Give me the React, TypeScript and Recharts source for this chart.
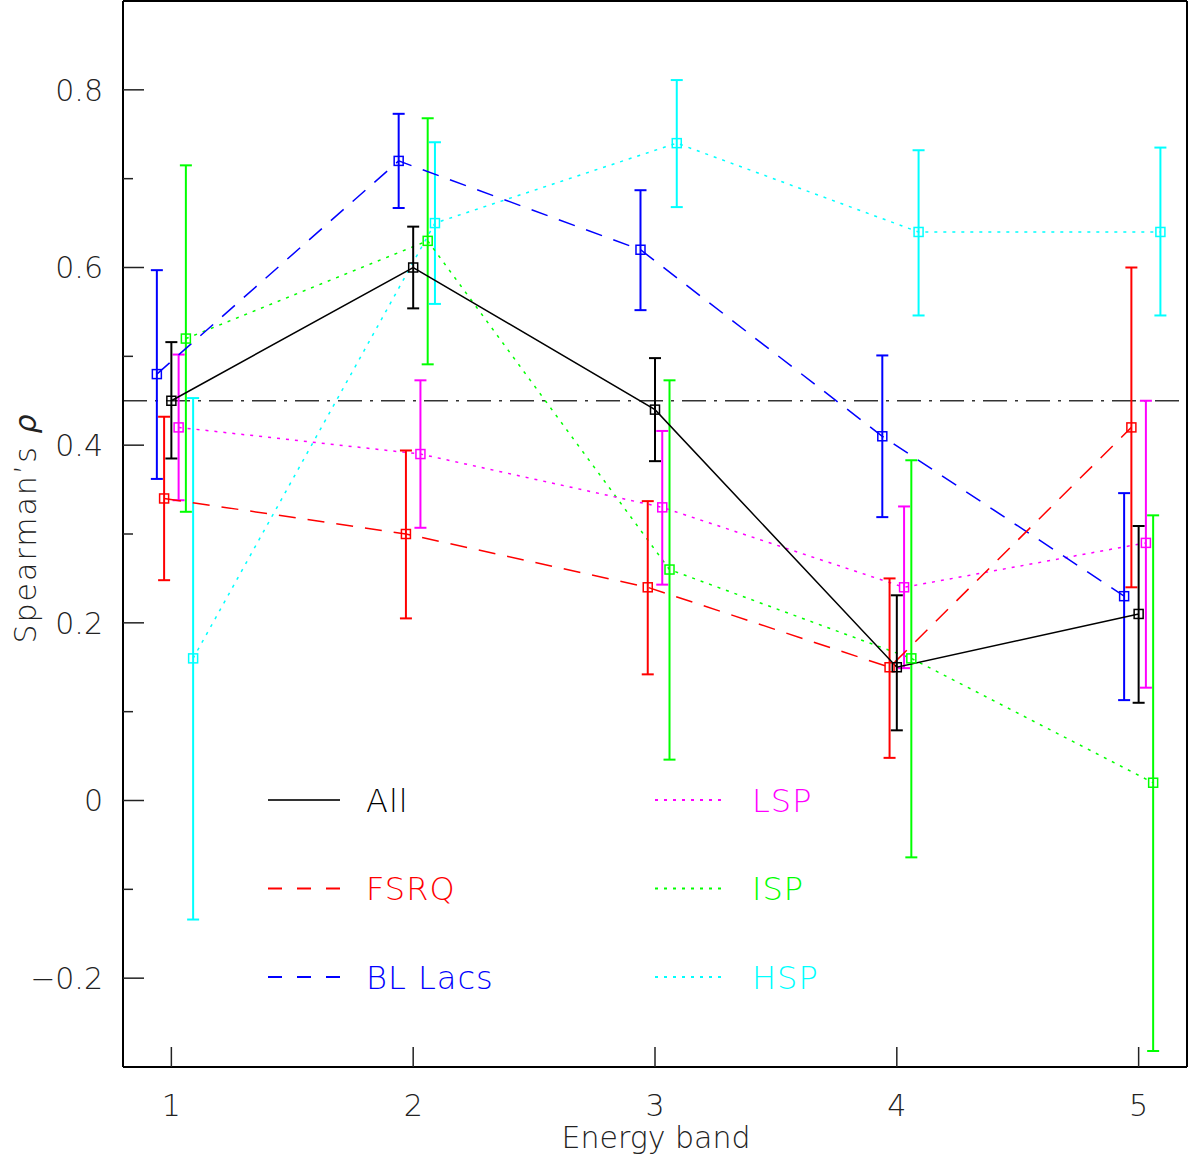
import React from "react";
import {
  ComposedChart,
  Line,
  XAxis,
  YAxis,
  ErrorBar,
  ReferenceLine,
  Legend,
} from "recharts";

const bands = [1, 2, 3, 4, 5];

const allRho = [0.45, 0.6, 0.44, 0.15, 0.21];
const allLo = [0.385, 0.554, 0.382, 0.079, 0.11];
const allHi = [0.516, 0.646, 0.498, 0.231, 0.309];

const fsrqRho = [0.34, 0.3, 0.24, 0.15, 0.42];
const fsrqLo = [0.248, 0.205, 0.142, 0.048, 0.24];
const fsrqHi = [0.432, 0.394, 0.337, 0.25, 0.6];

const blRho = [0.48, 0.72, 0.62, 0.41, 0.23];
const blLo = [0.362, 0.667, 0.552, 0.319, 0.113];
const blHi = [0.597, 0.773, 0.687, 0.501, 0.346];

const lspRho = [0.42, 0.39, 0.33, 0.24, 0.29];
const lspLo = [0.338, 0.307, 0.243, 0.149, 0.127];
const lspHi = [0.502, 0.473, 0.416, 0.331, 0.45];

const ispRho = [0.52, 0.63, 0.26, 0.16, 0.02];
const ispLo = [0.325, 0.491, 0.046, -0.064, -0.282];
const ispHi = [0.715, 0.768, 0.473, 0.383, 0.321];

const hspRho = [0.16, 0.65, 0.74, 0.64, 0.64];
const hspLo = [-0.134, 0.559, 0.668, 0.546, 0.546];
const hspHi = [0.453, 0.741, 0.811, 0.732, 0.735];

const threshold = 0.45;

const xTicks = [1, 2, 3, 4, 5];
const yTicks = [-0.2, -0.1, 0, 0.1, 0.2, 0.3, 0.4, 0.5, 0.6, 0.7, 0.8];
const yLabels: Record<string, string> = {
  "-0.2": "\u22120.2",
  "0": "0",
  "0.2": "0.2",
  "0.4": "0.4",
  "0.6": "0.6",
  "0.8": "0.8",
};

const FONT = "'DejaVu Sans', 'Liberation Sans', sans-serif";
const WEIGHT = 200;
const INK = "#222";

// drawn back to front; shift keeps the error bars apart
const series = [
  { key: "hsp", name: "HSP", rho: hspRho, lo: hspLo, hi: hspHi, color: "#00ffff", dash: "3 6", legendDash: "3 6", shift: 0.09 },
  { key: "isp", name: "ISP", rho: ispRho, lo: ispLo, hi: ispHi, color: "#00ff00", dash: "3 6", legendDash: "3 6", shift: 0.06 },
  { key: "lsp", name: "LSP", rho: lspRho, lo: lspLo, hi: lspHi, color: "#ff00ff", dash: "3 6", legendDash: "3 6", shift: 0.03 },
  { key: "bl", name: "BL Lacs", rho: blRho, lo: blLo, hi: blHi, color: "#0000ff", dash: "17 12", legendDash: "14 15", shift: -0.06 },
  { key: "fsrq", name: "FSRQ", rho: fsrqRho, lo: fsrqLo, hi: fsrqHi, color: "#ff0000", dash: "17 12", legendDash: "14 15", shift: -0.03 },
  { key: "all", name: "All", rho: allRho, lo: allLo, hi: allHi, color: "#000000", dash: undefined, legendDash: undefined, shift: 0 },
];

const tables = series.map((s) =>
  bands.map((b, i) => ({
    x: b + s.shift,
    y: s.rho[i],
    err: [s.rho[i] - s.lo[i], s.hi[i] - s.rho[i]],
  }))
);

const legendOrder = ["all", "fsrq", "bl", "lsp", "isp", "hsp"];

const LeftTick = (props: any) => {
  const { x, y, payload } = props;
  const label = yLabels[String(payload.value)];
  const len = label !== undefined ? 21 : 10;
  return (
    <g>
      <line x1={x} x2={x + len} y1={y} y2={y} stroke={INK} strokeWidth={1.5} />
      {label !== undefined && (
        <text x={x - 20} y={y} dy="0.36em" textAnchor="end" fontSize={30} fontWeight={WEIGHT} fontFamily={FONT} fill={INK}>
          {label}
        </text>
      )}
    </g>
  );
};

const RightTick = (props: any) => {
  const { x, y, payload } = props;
  const len = yLabels[String(payload.value)] !== undefined ? 21 : 10;
  return <line x1={x} x2={x - len} y1={y} y2={y} stroke={INK} strokeWidth={1.5} />;
};

const BottomTick = (props: any) => {
  const { x, y, payload } = props;
  return (
    <g>
      <line x1={x} x2={x} y1={y} y2={y - 20} stroke={INK} strokeWidth={1.5} />
      <text x={x} y={y + 49} textAnchor="middle" fontSize={30} fontWeight={WEIGHT} fontFamily={FONT} fill={INK}>
        {payload.value}
      </text>
    </g>
  );
};

const TopTick = (props: any) => {
  const { x, y } = props;
  return <line x1={x} x2={x} y1={y} y2={y + 22} stroke={INK} strokeWidth={1.5} />;
};

const renderLegend = () => (
  <svg width={1188} height={1157} style={{ position: "absolute", left: 0, top: 0, pointerEvents: "none" }}>
    {legendOrder.map((k, i) => {
      const s = series.find((d) => d.key === k)!;
      const col = Math.floor(i / 3);
      const row = i % 3;
      const lx = col === 0 ? 268 : 655;
      const tx = col === 0 ? 366 : 752;
      const ly = 800 + row * 88.5;
      return (
        <g key={k}>
          <line x1={lx} x2={lx + 72} y1={ly} y2={ly} stroke={s.key === "all" ? "#333" : s.color} strokeWidth={2} strokeDasharray={s.legendDash} />
          <text x={tx} y={ly} dy="0.36em" fontSize={32} fontWeight={WEIGHT} fontFamily={FONT} fill={s.color} letterSpacing={1}>
            {s.name}
          </text>
        </g>
      );
    })}
  </svg>
);

export default function App() {
  return (
    <div style={{ position: "absolute", left: 0, top: 0, width: 1188, height: 1157, background: "#fff" }}>
      <ComposedChart width={1188} height={1157} margin={{ top: 0, right: 0, bottom: 0, left: 0 }}>
        <XAxis
          xAxisId="b"
          dataKey="x"
          type="number"
          domain={[0.8, 5.2]}
          ticks={xTicks}
          interval={0}
          height={90}
          tickSize={0}
          tickMargin={0}
          tickLine={false}
          axisLine={{ stroke: "#000", strokeWidth: 2 }}
          tick={<BottomTick />}
          label={{
            content: () => (
              <text x={656} y={1148} textAnchor="middle" fontSize={30} fontWeight={WEIGHT} fontFamily={FONT} fill={INK}>
                Energy band
              </text>
            ),
          }}
        />
        <XAxis
          xAxisId="t"
          orientation="top"
          type="number"
          domain={[0.8, 5.2]}
          ticks={xTicks}
          interval={0}
          height={1}
          tickSize={0}
          tickMargin={0}
          tickLine={false}
          axisLine={{ stroke: "#000", strokeWidth: 2 }}
          tick={<TopTick />}
        />
        <YAxis
          yAxisId="l"
          type="number"
          domain={[-0.3, 0.9]}
          ticks={yTicks}
          interval={0}
          width={123}
          tickSize={0}
          tickMargin={0}
          tickLine={false}
          axisLine={{ stroke: "#000", strokeWidth: 2 }}
          tick={<LeftTick />}
          label={{
            content: () => (
              <text transform="translate(36,528) rotate(-90)" textAnchor="middle" fontSize={30} fontWeight={WEIGHT} fontFamily={FONT} fill={INK} letterSpacing={2}>
                Spearman’s <tspan fontStyle="italic">ρ</tspan>
              </text>
            ),
          }}
        />
        <YAxis
          yAxisId="r"
          orientation="right"
          type="number"
          domain={[-0.3, 0.9]}
          ticks={yTicks}
          interval={0}
          width={1}
          tickSize={0}
          tickMargin={0}
          tickLine={false}
          axisLine={{ stroke: "#000", strokeWidth: 2 }}
          tick={<RightTick />}
        />
        <ReferenceLine
          xAxisId="b"
          yAxisId="l"
          y={threshold}
          stroke="#333"
          strokeWidth={1.5}
          strokeDasharray="24 8 3 8"
        />
        {series.map((s, si) => (
          <Line
            key={s.key}
            xAxisId="b"
            yAxisId="l"
            data={tables[si]}
            dataKey="y"
            name={s.name}
            type="linear"
            stroke={s.color}
            strokeWidth={1.5}
            strokeDasharray={s.dash}
            isAnimationActive={false}
            dot={(p: any) => (
              <rect
                key={`${s.key}-${p.index}`}
                x={p.cx - 4.5}
                y={p.cy - 4.5}
                width={9}
                height={9}
                fill="none"
                stroke={s.color}
                strokeWidth={1.5}
              />
            )}
            activeDot={false}
          >
            <ErrorBar dataKey="err" direction="y" width={6} stroke={s.color} strokeWidth={2} />
          </Line>
        ))}
        <Legend layout="horizontal" verticalAlign="middle" align="center" content={renderLegend} wrapperStyle={{ left: 0, top: 0, width: 1188, height: 1157 }} />
      </ComposedChart>
    </div>
  );
}
